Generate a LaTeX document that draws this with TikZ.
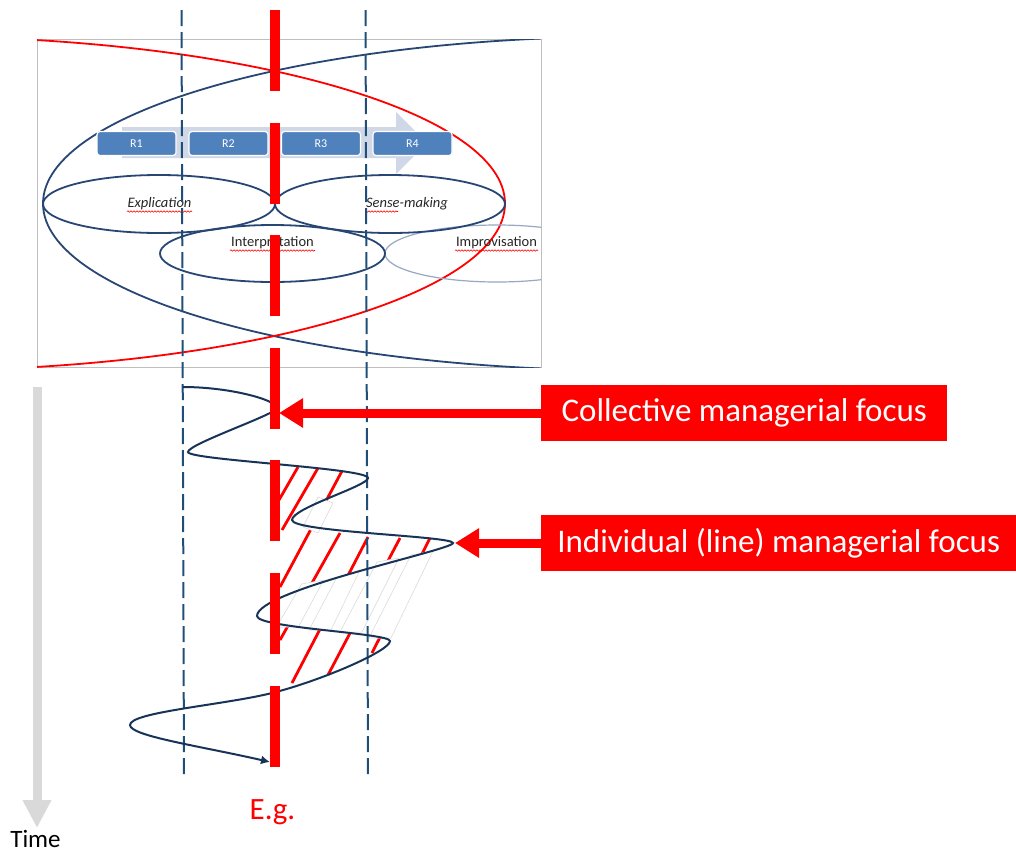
\documentclass[tikz,border=0pt]{standalone}
\usepackage{fontspec}
\setmainfont{Carlito}
\usetikzlibrary{arrows.meta,decorations.pathmorphing}
\definecolor{ellblue}{RGB}{40,70,115}
\definecolor{guideblue}{RGB}{31,78,121}
\definecolor{spiralblue}{RGB}{23,52,88}
\definecolor{rbox}{RGB}{79,129,189}
\definecolor{rband}{RGB}{208,216,232}
\definecolor{fadeblue}{RGB}{150,168,196}
\definecolor{timegrey}{RGB}{217,217,217}
\begin{document}
\begin{tikzpicture}[x=1pt,y=-1pt,
  guide/.style={guideblue,line width=2pt,dash pattern=on 16pt off 6pt},
  focusbar/.style={red,line width=10pt,dash pattern=on 81pt off 31.6pt},
  phase/.style={ellblue,line width=1.8pt},
  stagebox/.style={rectangle,rounded corners=3pt,fill=rbox,draw=white,line width=1.2pt,
    minimum width=79pt,minimum height=24pt,text=white,font=\fontsize{12}{14}\selectfont,inner sep=0pt},
  phaselabel/.style={font=\fontsize{14.5}{17}\selectfont,text=black!85,inner sep=0pt},
  spell/.style={red,line width=0.6pt,decorate,decoration={snake,amplitude=0.7pt,segment length=3pt}},
  callout/.style={rectangle,fill=red,text=white,font=\fontsize{33}{38}\selectfont,inner sep=0pt,
    anchor=west,minimum height=56pt},
  hatch/.style={red,line width=2.8pt},
  strip/.style={fill=white,draw=black!16,line width=0.5pt},
  spiral/.style={spiralblue,line width=2pt},
  focusarrow/.style={red,line width=9pt,-{Triangle[length=24pt,width=28pt]}},
]
\useasboundingbox (0,0) rectangle (1016,852);

% ---------- model frame ----------
\node[draw=black!25,line width=0.8pt,fill=white,minimum width=504pt,minimum height=328pt,
  inner sep=0pt,anchor=north west] (frame) at (37,39) {};
\begin{scope}
  \clip (37,39) rectangle (541,367);
  \draw[phase] (633,203.5) ellipse [x radius=590,y radius=167];
  \draw[red,line width=1.8pt] (-85,203.5) ellipse [x radius=590,y radius=167];
  \draw[fadeblue,line width=1.2pt] (497,253.5) ellipse [x radius=112,y radius=28.5];
\end{scope}

% stage band with R1..R4
\fill[rband] (122,127) -- (396,127) -- (396,112) -- (427,143) -- (396,174) -- (396,158) -- (122,158) -- cycle;
\node[stagebox] (r1) at (136.5,143.5) {R1};
\node[stagebox] (r2) at (228.5,143.5) {R2};
\node[stagebox] (r3) at (321,143.5) {R3};
\node[stagebox] (r4) at (412.5,143.5) {R4};

% phase ellipses
\draw[phase] (159,204) ellipse [x radius=116,y radius=29];
\draw[phase] (390,204) ellipse [x radius=115,y radius=29];
\draw[phase] (272.5,253.5) ellipse [x radius=112.5,y radius=28.5];
\node[phaselabel,font=\fontsize{14.5}{17}\selectfont\itshape] (expl) at (159.5,204) {Explication};
\node[phaselabel,font=\fontsize{14.5}{17}\selectfont\itshape] (sense) at (407,204) {Sense-making};
\node[phaselabel] (interp) at (272.5,243) {Interpretation};
\node[phaselabel] (improv) at (496.5,243) {Improvisation};
\draw[spell] (127,211.5) -- (192,211.5);
\draw[spell] (365,211.5) -- (398,211.5);
\draw[spell] (230,250.5) -- (315,250.5);
\draw[spell] (455,250.5) -- (538,250.5);

% ---------- hatched focus area ----------
\draw[hatch] (279,500) -- (298,467);
\draw[hatch] (282,530) -- (318,468);
\draw[hatch] (280,587) -- (342,471);
\draw[hatch] (280,640) -- (340,533);
\draw[hatch] (292,683) -- (368,537);
\draw[hatch] (328,675) -- (400,538);
\draw[hatch] (372,653) -- (430,538);
% erased strips
\draw[strip] (318,497) -- (333,503) -- (318,533) -- (303,527) -- cycle;
\draw[strip] (301.5,584) -- (323.5,580) -- (298.5,627) -- (276.5,627) -- cycle;
\draw[strip] (337,577) -- (359,572) -- (331,630) -- (309,630) -- cycle;
\draw[strip] (377,562) -- (399,558) -- (362,632) -- (340,632) -- cycle;
\draw[strip] (411,555) -- (433,551) -- (391,638) -- (369,638) -- cycle;

% ---------- guide lines ----------
\coordinate (gl1) at (181.5,10);
\coordinate (gl2) at (184,777);
\coordinate (gr1) at (365.5,10);
\coordinate (gr2) at (368,777);
\draw[guide] (gl1) -- (gl2);
\draw[guide] (gr1) -- (gr2);

% ---------- spiral ----------
\coordinate (s0) at (183,387);
\coordinate (s1) at (277,408);
\coordinate (s2) at (188,452);
\coordinate (s3) at (368,478);
\coordinate (s4) at (292,520);
\coordinate (s5) at (453,543);
\coordinate (s6) at (257,616);
\coordinate (s7) at (390,641);
\coordinate (s8) at (272,693);
\coordinate (s9) at (130,725);
\coordinate (s10) at (270,762);
\draw[spiral,-{Latex[length=9pt,width=9pt]}]
  (s0) .. controls (230,387) and (277,400) .. (s1)
       .. controls (277,414) and (188,444) .. (s2)
       .. controls (188,460) and (368,468) .. (s3)
       .. controls (368,486) and (292,508) .. (s4)
       .. controls (292,532) and (453,536) .. (s5)
       .. controls (453,550) and (257,590) .. (s6)
       .. controls (257,628) and (390,633) .. (s7)
       .. controls (390,651) and (320,681) .. (s8)
       .. controls (224,705) and (130,712) .. (s9)
       .. controls (130,736) and (200,746) .. (s10);

% ---------- focus bar ----------
\coordinate (bartop) at (275,10);
\coordinate (barbot) at (275,767);
\draw[focusbar] (bartop) -- (barbot);

% ---------- callouts ----------
\node[callout,minimum width=406pt] (collective) at (541,413) {Collective managerial focus};
\node[callout,minimum width=475pt] (individual) at (541,543) {Individual (line) managerial focus};
\coordinate (cfocus) at (279,413);
\coordinate (ifocus) at (455,543);
\draw[focusarrow] (collective.west) -- (cfocus);
\draw[focusarrow] (individual.west) -- (ifocus);

% ---------- time axis ----------
\coordinate (t0) at (37,387);
\coordinate (t1) at (37,828);
\draw[timegrey,line width=9pt,-{Triangle[length=28pt,width=27pt]}] (t0) -- (t1);
\node[font=\fontsize{25}{30}\selectfont,inner sep=0pt] (time) at (35.5,839) {Time};
\node[font=\fontsize{31}{36}\selectfont,text=red,inner sep=0pt] (eg) at (272.5,812) {E.g.};
\end{tikzpicture}
\end{document}
